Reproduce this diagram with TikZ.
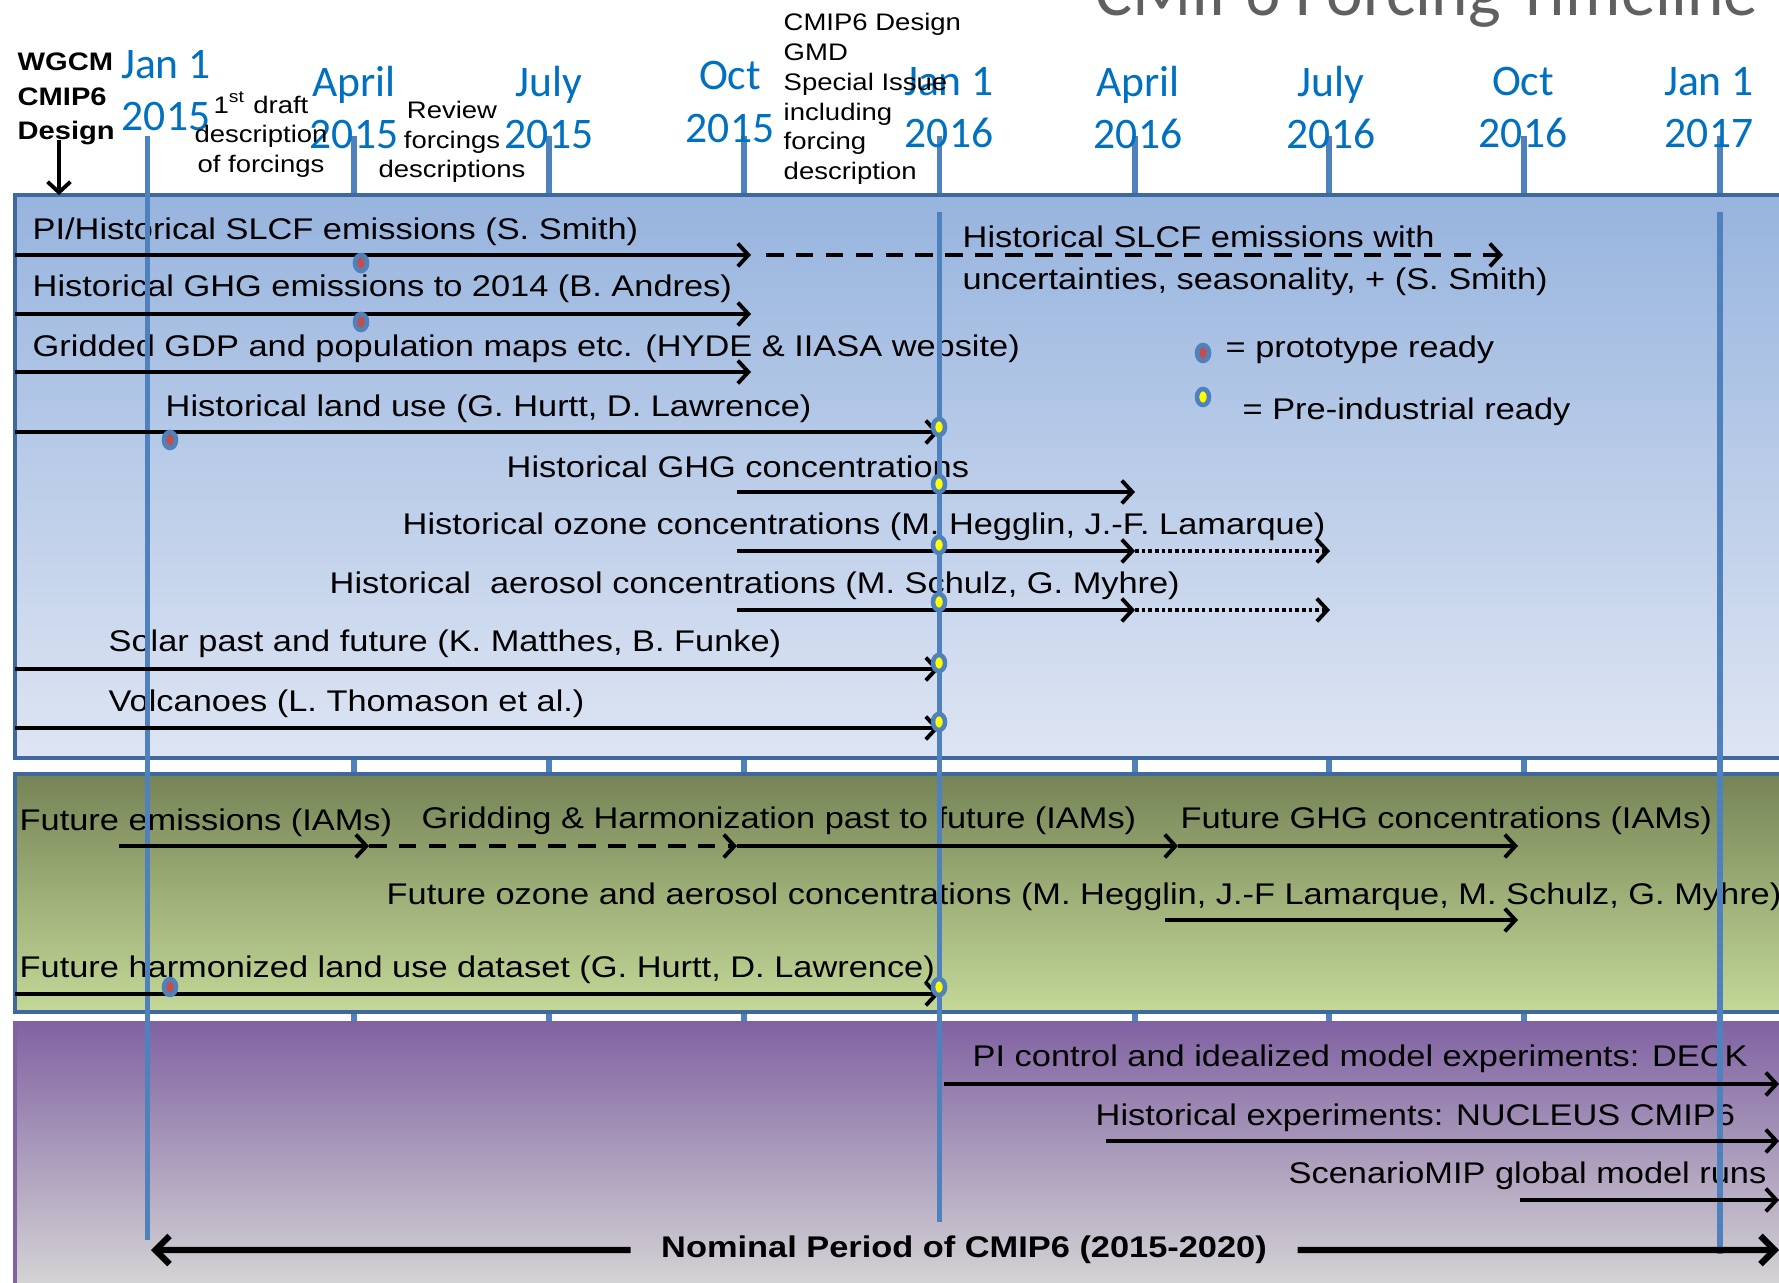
\documentclass[tikz,border=0pt]{standalone}
\usepackage{fontspec}
\setmainfont{Liberation Sans}[FakeStretch=1.15]
\newfontfamily\monthfont{Carlito}
\usetikzlibrary{arrows.meta,shapes.geometric}

\definecolor{tickblue}{RGB}{79,129,189}
\definecolor{frameblue}{RGB}{62,104,158}
\definecolor{monthblue}{RGB}{0,112,192}
\definecolor{protored}{RGB}{192,80,77}
\definecolor{piyellow}{RGB}{255,255,0}
\definecolor{titlegray}{RGB}{96,96,96}
\definecolor{histtop}{RGB}{151,180,222}
\definecolor{histbot}{RGB}{222,229,243}
\definecolor{futtop}{RGB}{118,132,86}
\definecolor{futbot}{RGB}{196,216,152}
\definecolor{exptop}{RGB}{128,98,162}
\definecolor{expmid}{RGB}{178,178,178}
\definecolor{expbot}{RGB}{214,214,214}

\begin{document}
\begin{tikzpicture}
  [x=0.01cm,y=-0.01cm,
   edge/.style={->,>={Straight Barb[length=3pt,width=6.5pt]},line width=1.1pt},
   later/.style={edge,dash pattern=on 5pt off 3.5pt},
   pending/.style={edge,dash pattern=on 1pt off 0.9pt},
   period/.style={->,>={Straight Barb[length=4pt,width=8pt]},line width=1.8pt},
   lbl/.style={anchor=west,inner sep=0pt,yshift=-0.04cm,font=\fontsize{8.5}{10}\selectfont},
   month/.style={align=center,inner sep=0pt,text=monthblue,font=\monthfont\fontsize{12.4}{14.8}\selectfont},
   note/.style={align=center,inner sep=0pt,font=\fontsize{6.8}{8.45}\selectfont},
   qtick/.style={tickblue,line width=1.6pt},
   janline/.style={tickblue,line width=1.5pt},
   panelframe/.style={draw=frameblue,line width=1pt},
   proto/.style={ellipse,draw=tickblue,line width=1.3pt,fill=protored,minimum width=0.12cm,minimum height=0.16cm,inner sep=0pt},
   piready/.style={proto,fill=piyellow}]

  \useasboundingbox (0,0) rectangle (1779,1283);
  \clip (0,0) rectangle (1779,1283);
  \fill[white] (0,0) rectangle (1779,1283);

  % time axis
  \foreach \x in {354,549,744,1135,1329,1524}
    \draw[qtick] (\x,136) -- (\x,1021);
  \foreach \x in {147.5,939.5,1720}
    \draw[qtick] (\x,136) -- (\x,195);

  % panels
  \shade[top color=histtop,bottom color=histbot] (15,195) rectangle (1800,758);
  \draw[panelframe] (15,195) rectangle (1800,758);
  \shade[top color=futtop,bottom color=futbot] (15,774) rectangle (1800,1012);
  \draw[panelframe] (15,774) rectangle (1800,1012);
  \shade[top color=exptop,middle color=expmid,bottom color=expbot] (15,1021) rectangle (1800,1290);
  \draw[exptop,line width=1pt] (15,1021) -- (15,1290);

  \node[anchor=base west,inner sep=0pt,text=titlegray,font=\monthfont\fontsize{19.7}{22}\selectfont] (title) at (1095,16) {CMIP6 Forcing Timeline};

  \node[anchor=west,align=left,inner sep=0pt,font=\bfseries\fontsize{7.2}{9.8}\selectfont] (wgcm) at (17,99) {WGCM\\CMIP6\\Design};
  \foreach \x/\m/\yr/\y [count=\i] in {166/Jan 1/2015/91,354/April/2015/107.5,549/July/2015/107.5,
      730/Oct/2015/102,949/Jan 1/2016/107.5,1138/April/2016/107.5,1331/July/2016/107.5,
      1523/Oct/2016/107.5,1709/Jan 1/2017/107.5}
    \node[month] (m\i) at (\x,\y) {\m\\\yr};
  \node[note] (draft) at (261,134.5) {1\textsuperscript{st} draft\\description\\of forcings};
  \node[note] (review) at (452,142) {Review\\forcings\\descriptions};
  \node[note,anchor=west,align=left] (gmd) at (783,99) {CMIP6 Design\\GMD\\Special Issue\\including\\forcing\\description};

  % historical forcings
  \node[lbl] (slcf) at (32,228) {PI/Historical SLCF emissions (S. Smith)};
  \node[lbl] (slcfa) at (962,233) {Historical SLCF emissions with};
  \node[lbl] (slcfb) at (962,278) {uncertainties, seasonality, + (S. Smith)};
  \node[lbl] (ghgem) at (32,285) {Historical GHG emissions to 2014 (B. Andres)};
  \node[lbl] (gdp) at (32,345) {Gridded GDP and population maps etc. (HYDE \& IIASA website)};
  \node[lbl] (landuse) at (165,405) {Historical land use (G. Hurtt, D. Lawrence)};
  \node[lbl] (ghgconc) at (506,463) {Historical GHG concentrations};
  \node[lbl] (ozone) at (402,523) {Historical ozone concentrations (M. Hegglin, J.-F. Lamarque)};
  \node[lbl] (aerosol) at (329,582) {Historical\ \ aerosol concentrations (M. Schulz, G. Myhre)};
  \node[lbl] (solar) at (108,640) {Solar past and future (K. Matthes, B. Funke)};
  \node[lbl] (volc) at (108,700) {Volcanoes (L. Thomason et al.)};
  \node[lbl] (protolbl) at (1225,346) {= prototype ready};
  \node[lbl] (pilbl) at (1242,408) {= Pre-industrial ready};

  % future forcings
  \node[lbl] (futem) at (19,819) {Future emissions (IAMs)};
  \node[lbl] (gridding) at (421,817) {Gridding \& Harmonization past to future (IAMs)};
  \node[lbl] (futghg) at (1180,817) {Future GHG concentrations (IAMs)};
  \node[lbl] (futoz) at (386,893) {Future ozone and aerosol concentrations (M. Hegglin, J.-F Lamarque, M. Schulz, G. Myhre)};
  \node[lbl] (futland) at (19,966) {Future harmonized land use dataset (G. Hurtt, D. Lawrence)};

  % experiments
  \node[lbl] (deck) at (972,1055) {PI control and idealized model experiments: DECK};
  \node[lbl] (nucleus) at (1095,1114) {Historical experiments: NUCLEUS CMIP6};
  \node[lbl] (scen) at (1288,1172) {ScenarioMIP global model runs};
  \node[inner sep=0pt,inner xsep=0.3cm,yshift=-0.03cm,font=\bfseries\fontsize{8.5}{10}\selectfont] (nominal) at (964,1247) {Nominal Period of CMIP6 (2015-2020)};

  \draw[janline] (147.5,136) -- (147.5,1240);
  \draw[janline] (939.5,212) -- (939.5,1222);
  \draw[janline] (1720,212) -- (1720,1254);

  \coordinate (w0) at (59,140);    \coordinate (w1) at (59,195);
  \coordinate (a0) at (15,255);    \coordinate (a1) at (751,255);
  \coordinate (a2) at (766,255);   \coordinate (a3) at (1503,255);
  \coordinate (b0) at (15,314);    \coordinate (b1) at (751,314);
  \coordinate (c0) at (15,372);    \coordinate (c1) at (751,372);
  \coordinate (d0) at (15,432);    \coordinate (d1) at (939,432);
  \coordinate (e0) at (737,492);   \coordinate (e1) at (1135,492);
  \coordinate (f0) at (737,551);   \coordinate (f1) at (1135,551);  \coordinate (f2) at (1330,551);
  \coordinate (g0) at (737,610);   \coordinate (g1) at (1135,610);  \coordinate (g2) at (1330,610);
  \coordinate (h0) at (15,669);    \coordinate (h1) at (939,669);
  \coordinate (i0) at (15,728);    \coordinate (i1) at (939,728);
  \coordinate (j0) at (119,846);   \coordinate (j1) at (369,846);
  \coordinate (j2) at (737,846);   \coordinate (j3) at (1178,846);  \coordinate (j4) at (1518,846);
  \coordinate (k0) at (1165,920);  \coordinate (k1) at (1518,920);
  \coordinate (l0) at (15,994);    \coordinate (l1) at (939,994);
  \coordinate (n0) at (944,1084);  \coordinate (n1) at (1779,1084);
  \coordinate (o0) at (1106,1141); \coordinate (o1) at (1779,1141);
  \coordinate (p0) at (1520,1200); \coordinate (p1) at (1779,1200);
  \coordinate (q0) at (151,1250);  \coordinate (q1) at (1779,1250);

  \draw[edge] (w0) -- (w1);
  \draw[edge] (a0) -- (a1);
  \draw[later] (a2) -- (a3);
  \draw[edge] (b0) -- (b1);
  \draw[edge] (c0) -- (c1);
  \draw[edge] (d0) -- (d1);
  \draw[edge] (e0) -- (e1);
  \draw[edge] (f0) -- (f1);
  \draw[pending] (f1) -- (f2);
  \draw[edge] (g0) -- (g1);
  \draw[pending] (g1) -- (g2);
  \draw[edge] (h0) -- (h1);
  \draw[edge] (i0) -- (i1);
  \draw[edge] (j0) -- (j1);
  \draw[later] (j1) -- (j2);
  \draw[edge] (j2) -- (j3);
  \draw[edge] (j3) -- (j4);
  \draw[edge] (k0) -- (k1);
  \draw[edge] (l0) -- (l1);
  \draw[edge] (n0) -- (n1);
  \draw[edge] (o0) -- (o1);
  \draw[edge] (p0) -- (p1);
  \draw[period] (nominal.west) -- (q0);
  \draw[period] (nominal.east) -- (q1);

  % readiness marks
  \node[proto] (r1) at (361,263) {};
  \node[proto] (r2) at (361,322) {};
  \node[proto] (r3) at (170,440) {};
  \node[proto] (r4) at (170,987) {};
  \node[proto] (r5) at (1203,353) {};
  \node[piready] (y1) at (939,427) {};
  \node[piready] (y2) at (939,484) {};
  \node[piready] (y3) at (939,545) {};
  \node[piready] (y4) at (939,602) {};
  \node[piready] (y5) at (939,663) {};
  \node[piready] (y6) at (939,722) {};
  \node[piready] (y7) at (939,987) {};
  \node[piready] (y8) at (1203,397) {};
\end{tikzpicture}
\end{document}
